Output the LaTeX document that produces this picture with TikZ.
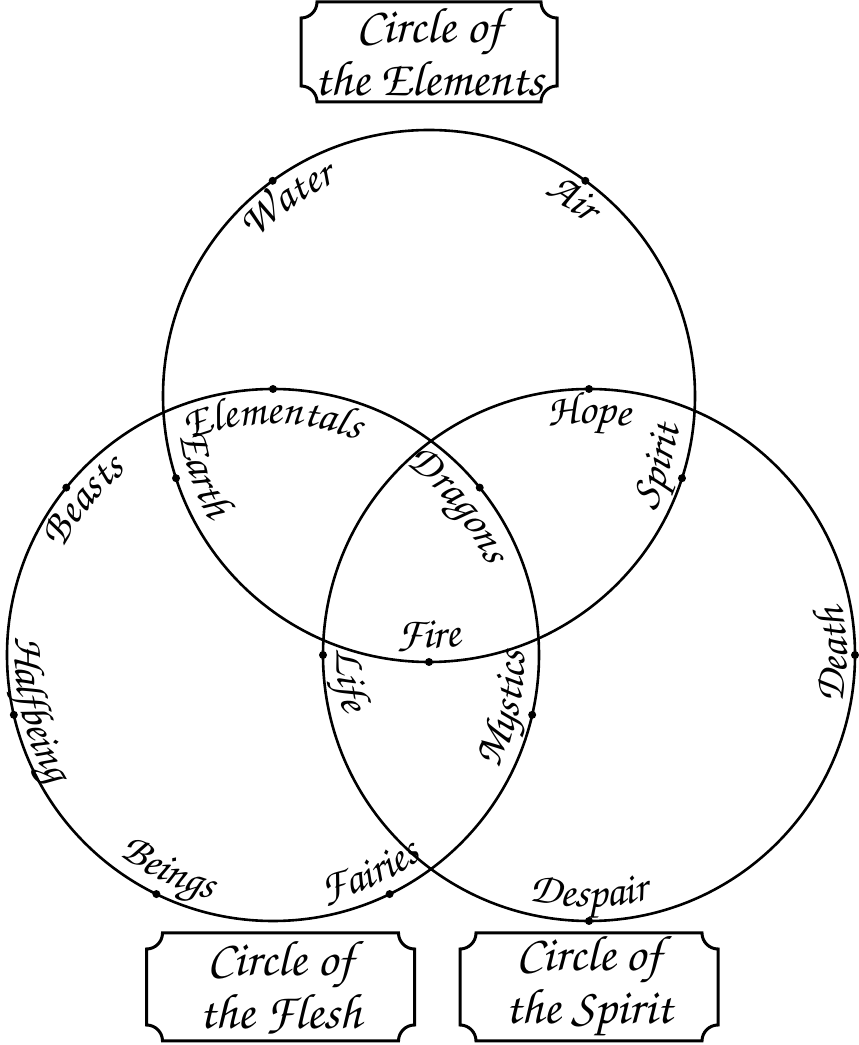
\documentclass[tikz,border=0pt]{standalone}
\usepackage[T1]{fontenc}
\usetikzlibrary{positioning,calc,decorations.text}
\newcommand{\lblfont}{\fontfamily{pzc}\fontshape{it}\fontsize{22}{24}\selectfont}
\newcommand{\signfont}{\fontfamily{pzc}\fontshape{it}\fontsize{25}{19}\selectfont}
% label set along a ring: circle, angle, radius, half span (+ clockwise, - counterclockwise), text
\newcommand{\ringtext}[5]{%
  \path[decorate,decoration={text along path,text align=center,text={|\lblfont|#5}}]
    ($(#1)+({#2+(#4)}:#3)$) arc[start angle={#2+(#4)},end angle={#2-(#4)},radius=#3];}
% frame with scooped corners round a named node
\newcommand{\signframe}[1]{%
  \draw[frame] ([xshift=8pt]#1.north west) -- ([xshift=-8pt]#1.north east)
    arc[start angle=180,end angle=270,radius=8pt] -- ([yshift=8pt]#1.south east)
    arc[start angle=90,end angle=180,radius=8pt] -- ([xshift=8pt]#1.south west)
    arc[start angle=0,end angle=90,radius=8pt] -- ([yshift=-8pt]#1.north west)
    arc[start angle=270,end angle=360,radius=8pt] -- cycle;}

\begin{document}
\begin{tikzpicture}[x=0.5pt,y=0.5pt,
 ring/.style={circle,draw,line width=1.3pt,minimum size=266pt,inner sep=0pt,outer sep=0pt},
 sign/.style={align=center,font=\signfont,inner sep=0pt,outer sep=0pt,minimum height=50pt},
 frame/.style={line width=1.5pt}
]
\useasboundingbox (0,0) rectangle (858,1045);
\node[ring] (elem) at (429,649) {};
\node[ring] (flesh) at (273,390) {};
\node[ring] (spirit) at (589,390) {};
\node[sign,minimum width=128pt,above=14pt of elem] (elemsign) {Circle of\\the Elements};
\node[sign,minimum width=134pt,minimum height=54pt,below=6pt of flesh,xshift=3.75pt] (fleshsign) {Circle of\\the Flesh};
\node[sign,minimum width=129pt,minimum height=54pt,below=6pt of spirit] (spiritsign) {Circle of\\the Spirit};
\foreach \n in {elemsign,fleshsign,spiritsign} \signframe{\n};
% points on the rings
\foreach \a in {54,126,198,270,342} \fill (elem.\a) circle[radius=4];
\foreach \a in {90,39,347,296,244,193,141} \fill (flesh.\a) circle[radius=4];
\foreach \a in {0,90,180,270} \fill (spirit.\a) circle[radius=4];
% elements
\ringtext{elem}{126}{233}{40}{Water}
\ringtext{elem}{54}{233}{40}{Air}
\ringtext{elem}{199}{252}{-40}{Earth}
\ringtext{elem}{270}{252}{-40}{Fire}
\ringtext{elem}{343}{252}{-40}{Spirit}
% flesh
\ringtext{flesh}{90}{231}{40}{Elementals}
\ringtext{flesh}{39}{232}{40}{Dragons}
\ringtext{flesh}{347}{252}{-40}{Mystics}
\ringtext{flesh}{294}{252}{-40}{Fairies}
\ringtext{flesh}{244}{252}{-40}{Beings}
\ringtext{flesh}{193}{258}{-40}{Halfbeing}
\ringtext{flesh}{141}{235}{40}{Beasts}
% spirit
\ringtext{spirit}{90}{232}{40}{Hope}
\ringtext{spirit}{0}{258}{-40}{Death}
\ringtext{spirit}{270}{252}{-40}{Despair}
\ringtext{spirit}{186}{252}{-40}{Life}
\end{tikzpicture}
\end{document}
